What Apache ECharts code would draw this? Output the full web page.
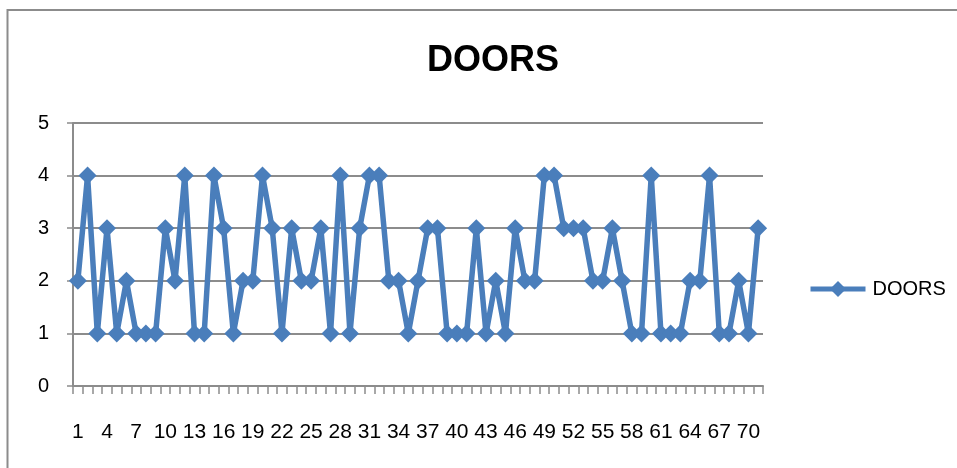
<!DOCTYPE html>
<html>
<head>
<meta charset="utf-8">
<script src="https://cdn.jsdelivr.net/npm/echarts@6/dist/echarts.min.js"></script>
<style>
  html, body { margin: 0; padding: 0; background: #fff; }
  #chart { width: 957px; height: 468px; }
</style>
</head>
<body>
<div id="chart"></div>
<script>
  var categories = ['1','2','3','4','5','6','7','8','9','10','11','12','13','14','15','16','17','18','19','20',
    '21','22','23','24','25','26','27','28','29','30','31','32','33','34','35','36','37','38','39','40',
    '41','42','43','44','45','46','47','48','49','50','51','52','53','54','55','56','57','58','59','60',
    '61','62','63','64','65','66','67','68','69','70','71'];
  var doors = [2,4,1,3,1,2,1,1,1,3,2,4,1,1,4,3,1,
    2,2,4,3,1,3,2,2,3,1,4,1,3,4,4,2,2,
    1,2,3,3,1,1,1,3,1,2,1,3,2,2,4,4,3,3,
    3,2,2,3,2,1,1,4,1,1,1,2,2,4,1,1,2,1,3];
  var yTicks = [0, 1, 2, 3, 4, 5];

  var font = '"Liberation Sans", Arial, sans-serif';
  var blue = '#4a7ebb';
  var gray = '#8c8c8c';

  var mychart = echarts.init(document.getElementById('chart'));
  var option = {
    animation: false,
    graphic: [{
      type: 'rect',
      shape: { x: 7.5, y: 10, width: 1000, height: 500 },
      style: { fill: 'none', stroke: gray, lineWidth: 2 },
      silent: true
    }],
    title: {
      text: 'DOORS',
      left: 488,
      top: 38,
      textAlign: 'center',
      textStyle: {
        fontFamily: font,
        fontWeight: 'bold',
        fontSize: 36,
        color: '#000'
      }
    },
    legend: {
      data: ['DOORS'],
      left: 803,
      top: 274,
      itemWidth: 55,
      itemHeight: 20,
      lineStyle: { width: 5 },
      textStyle: {
        fontFamily: font,
        fontSize: 20,
        color: '#000',
        padding: [0, 0, 0, 2]
      }
    },
    grid: {
      left: 73,
      right: 194,
      top: 123,
      bottom: 82,
      containLabel: false
    },
    xAxis: {
      type: 'category',
      data: categories,
      boundaryGap: true,
      axisLine: { show: true, lineStyle: { color: gray, width: 2 } },
      axisTick: {
        show: true,
        interval: 0,
        length: 8,
        lineStyle: { color: gray, width: 1.5 }
      },
      axisLabel: {
        interval: 2,
        margin: 36,
        fontFamily: font,
        fontSize: 21,
        color: '#000'
      },
      splitLine: { show: false }
    },
    yAxis: {
      type: 'value',
      min: yTicks[0],
      max: yTicks[yTicks.length - 1],
      interval: 1,
      axisLine: { show: true, lineStyle: { color: gray, width: 2 } },
      axisTick: { show: true, length: 6, lineStyle: { color: gray, width: 1.5 } },
      axisLabel: {
        margin: 24,
        fontFamily: font,
        fontSize: 20,
        color: '#000'
      },
      splitLine: { show: true, lineStyle: { color: gray, width: 2 } }
    },
    series: [{
      name: 'DOORS',
      type: 'line',
      data: doors,
      symbol: 'diamond',
      symbolSize: 18,
      showSymbol: true,
      showAllSymbol: true,
      lineStyle: { color: blue, width: 5.5 },
      itemStyle: { color: blue, borderWidth: 0 }
    }]
  };
  mychart.setOption(option);
</script>
</body>
</html>
